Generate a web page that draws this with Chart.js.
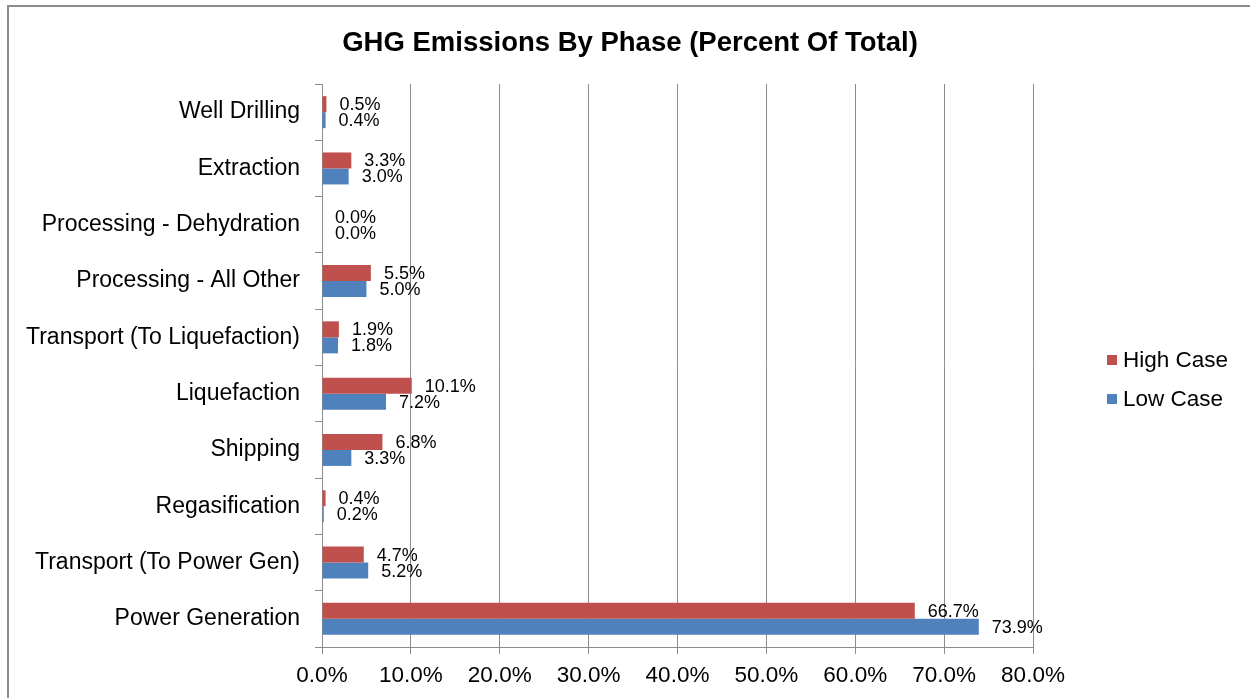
<!DOCTYPE html>
<html>
<head>
<meta charset="utf-8">
<script src="https://cdn.jsdelivr.net/npm/chart.js@4/dist/chart.umd.min.js"></script>
<style>
  html, body { margin:0; padding:0; background:#fff; overflow:hidden; }
  #wrap { position:relative; width:1250px; height:698px; }
  #frame { position:absolute; left:7px; top:5px; width:1400px; height:900px;
           border-top:2px solid #8c8c8c; border-left:2px solid #8c8c8c; box-sizing:border-box; }
  canvas { position:absolute; left:0; top:0; }
</style>
</head>
<body>
<div id="wrap">
  <div id="frame"></div>
  <canvas id="c" width="1250" height="698"></canvas>
</div>
<script>
const categories = [
  "Well Drilling",
  "Extraction",
  "Processing - Dehydration",
  "Processing - All Other",
  "Transport (To Liquefaction)",
  "Liquefaction",
  "Shipping",
  "Regasification",
  "Transport (To Power Gen)",
  "Power Generation"
];
const highCase = [0.5, 3.3, 0.0, 5.5, 1.9, 10.1, 6.8, 0.4, 4.7, 66.7];
const lowCase  = [0.4, 3.0, 0.0, 5.0, 1.8, 7.2, 3.3, 0.2, 5.2, 73.9];
const seriesNames = ["High Case", "Low Case"];
const seriesColors = ["#C0504D", "#4F81BD"];
const titleText = "GHG Emissions By Phase (Percent Of Total)";
const xMin = 0, xMax = 80, xStep = 10;

const FONT = "Arial, 'Liberation Sans', sans-serif";
const GRID = "#8c8c8c";

const decorPlugin = {
  id: "decor",
  afterDatasetsDraw(chart) {
    const ctx = chart.ctx;
    ctx.save();
    ctx.fillStyle = "#000";
    ctx.font = "18px " + FONT;
    ctx.textAlign = "left";
    ctx.textBaseline = "middle";
    chart.data.datasets.forEach((ds, i) => {
      const meta = chart.getDatasetMeta(i);
      meta.data.forEach((el, j) => {
        ctx.fillText(ds.data[j].toFixed(1) + "%", el.x + 13, el.y + 1);
      });
    });
    ctx.restore();
  },
  afterDraw(chart) {
    const ctx = chart.ctx;
    ctx.save();
    ctx.fillStyle = "#000";
    ctx.font = "bold 27.5px " + FONT;
    ctx.textAlign = "center";
    ctx.textBaseline = "middle";
    ctx.fillText(titleText, 630, 43);
    ctx.font = "22.5px " + FONT;
    ctx.textAlign = "left";
    const ly = [360, 399];
    chart.data.datasets.forEach((ds, i) => {
      ctx.fillStyle = ds.backgroundColor;
      ctx.fillRect(1107, ly[i] - 5, 10, 10);
      ctx.fillStyle = "#000";
      ctx.fillText(ds.label, 1123, ly[i] + 1);
    });
    ctx.restore();
  }
};

new Chart(document.getElementById("c"), {
  type: "bar",
  data: {
    labels: categories,
    datasets: [
      { label: seriesNames[0], data: highCase, backgroundColor: seriesColors[0], borderWidth: 0 },
      { label: seriesNames[1], data: lowCase,  backgroundColor: seriesColors[1], borderWidth: 0 }
    ]
  },
  options: {
    indexAxis: "y",
    responsive: false,
    animation: false,
    devicePixelRatio: 1,
    categoryPercentage: 0.568,
    barPercentage: 1.0,
    layout: { padding: { left: 0, right: 217, top: 84, bottom: 0 } },
    plugins: {
      legend: { display: false },
      title: { display: false },
      tooltip: { enabled: false }
    },
    scales: {
      x: {
        min: xMin, max: xMax,
        afterFit(s) { s.height = 51; },
        grid: { color: GRID, lineWidth: 1, drawTicks: true, tickLength: 7, tickColor: GRID },
        border: { display: true, color: GRID, width: 1 },
        ticks: {
          stepSize: xStep,
          color: "#000",
          font: { family: FONT, size: 22.5 },
          padding: 8,
          maxRotation: 0,
          callback: v => v.toFixed(1) + "%"
        }
      },
      y: {
        afterFit(s) { s.width = 322; },
        grid: { display: true, drawOnChartArea: false, drawTicks: true, tickLength: 7, color: GRID, offset: true },
        border: { display: true, color: GRID, width: 1 },
        ticks: {
          color: "#000",
          font: { family: FONT, size: 23 },
          padding: 15,
          autoSkip: false
        }
      }
    }
  },
  plugins: [decorPlugin]
});
</script>
</body>
</html>
